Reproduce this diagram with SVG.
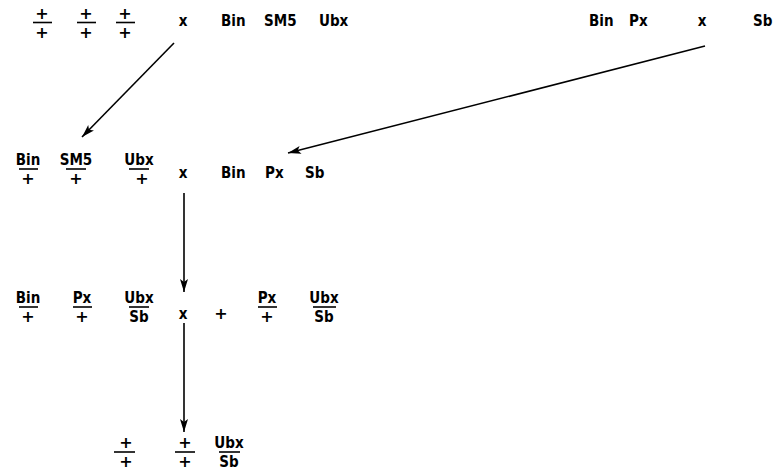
<svg xmlns="http://www.w3.org/2000/svg" width="775" height="474" viewBox="0 0 775 474">
<defs>
<style>
.t{font-family:"Liberation Sans Narrow","DejaVu Sans Condensed","Roboto Condensed",sans-serif;font-weight:bold;font-size:15px;fill:#000}
.c{text-anchor:middle}
.p{font-family:"DejaVu Sans",sans-serif;font-weight:bold;font-size:16px;fill:#000;text-anchor:middle}
.bar{stroke:#000;stroke-width:1.6}
.con{stroke:#000;stroke-width:1.6;fill:none;marker-end:url(#ah)}
</style>
<marker id="ah" markerUnits="userSpaceOnUse" markerWidth="14" markerHeight="10" refX="13" refY="5" orient="auto">
<path d="M0,1 L13,5 L0,9 L3,5 Z" fill="#000"/>
</marker>
</defs>
<rect width="775" height="474" fill="#fff"/>
<g id="connectors">
<line class="con" x1="174" y1="43" x2="82" y2="137"/>
<line class="con" x1="705" y1="46" x2="288" y2="153"/>
<line class="con" x1="184" y1="193" x2="184" y2="292"/>
<line class="con" x1="184" y1="323" x2="184" y2="432"/>
</g>
<g id="row1-left">
<text class="p" x="42" y="19">+</text><line class="bar" x1="33" y1="22.5" x2="52" y2="22.5"/><text class="p" x="42" y="38">+</text>
<text class="p" x="86" y="19">+</text><line class="bar" x1="77" y1="22.5" x2="96" y2="22.5"/><text class="p" x="86" y="38">+</text>
<text class="p" x="125" y="19">+</text><line class="bar" x1="116" y1="22.5" x2="135" y2="22.5"/><text class="p" x="125" y="38">+</text>
<text class="t c" x="183" y="26">x</text>
<text class="t" x="221" y="26">Bin</text>
<text class="t" x="264" y="26">SM5</text>
<text class="t" x="319" y="26">Ubx</text>
</g>
<g id="row1-right">
<text class="t" x="589" y="26">Bin</text>
<text class="t" x="629" y="26">Px</text>
<text class="t c" x="702" y="26">x</text>
<text class="t" x="753" y="26">Sb</text>
</g>
<g id="row2">
<text class="t c" x="28" y="165">Bin</text><line class="bar" x1="19" y1="169" x2="38" y2="169"/><text class="p" x="28" y="184">+</text>
<text class="t c" x="76" y="165">SM5</text><line class="bar" x1="66" y1="169" x2="86" y2="169"/><text class="p" x="76" y="184">+</text>
<text class="t c" x="139" y="165">Ubx</text><line class="bar" x1="129" y1="169" x2="149" y2="169"/><text class="p" x="142" y="184">+</text>
<text class="t c" x="183" y="178">x</text>
<text class="t" x="221" y="178">Bin</text>
<text class="t" x="265" y="178">Px</text>
<text class="t" x="305" y="178">Sb</text>
</g>
<g id="row3">
<text class="t c" x="28" y="303">Bin</text><line class="bar" x1="19" y1="307" x2="38" y2="307"/><text class="p" x="28" y="322">+</text>
<text class="t c" x="82" y="303">Px</text><line class="bar" x1="73" y1="307" x2="92" y2="307"/><text class="p" x="82" y="322">+</text>
<text class="t c" x="139" y="303">Ubx</text><line class="bar" x1="129" y1="307" x2="149" y2="307"/><text class="t c" x="139" y="322">Sb</text>
<text class="t c" x="183" y="319">x</text>
<text class="p" x="221" y="319">+</text>
<text class="t c" x="267" y="303">Px</text><line class="bar" x1="258" y1="307" x2="277" y2="307"/><text class="p" x="267" y="322">+</text>
<text class="t c" x="324" y="303">Ubx</text><line class="bar" x1="313" y1="307" x2="336" y2="307"/><text class="t c" x="324" y="322">Sb</text>
</g>
<g id="row4">
<text class="p" x="126" y="448">+</text><line class="bar" x1="114" y1="452" x2="135" y2="452"/><text class="p" x="126" y="467">+</text>
<text class="p" x="185" y="448">+</text><line class="bar" x1="175" y1="452" x2="195" y2="452"/><text class="p" x="185" y="467">+</text>
<text class="t c" x="229" y="448">Ubx</text><line class="bar" x1="219" y1="452" x2="240" y2="452"/><text class="t c" x="229" y="467">Sb</text>
</g>
</svg>
